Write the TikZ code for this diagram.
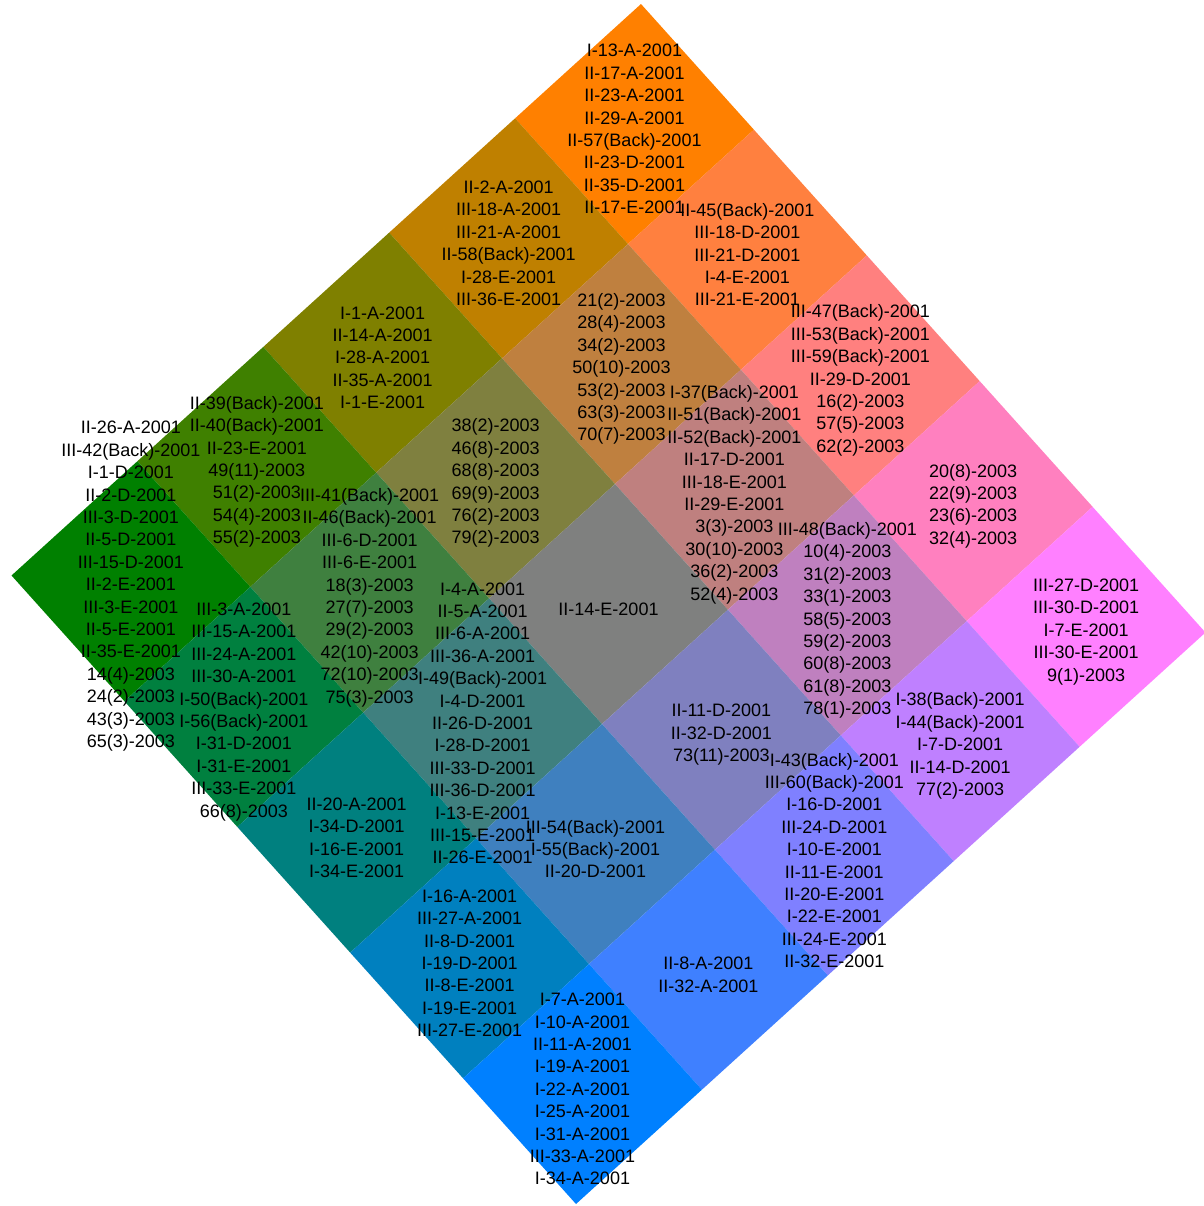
\documentclass[tikz,border=0pt]{standalone}
\usepackage{fontspec}
\setmainfont{Liberation Sans}
\tikzset{lbl/.style={align=center, inner sep=0pt, font=\fontsize{9}{11.2}\selectfont, yshift=-2.5pt}}
\begin{document}
\begin{tikzpicture}[x=0.5pt,y=-0.5pt]
	\useasboundingbox (0,0) rectangle (1204,1206);
	% corners and centres of the map cells
	\foreach \i in {0,...,5}
		\foreach \j in {0,...,5} {
			\coordinate (p\i\j) at ({641+112.9*\i-125.9*\j},{4+125.7*\i+114.3*\j});
			\coordinate (m\i\j) at ({641+112.9*(\i+.5)-125.9*(\j+.5)},{4+125.7*(\i+.5)+114.3*(\j+.5)});
		}
	\foreach \i in {0,...,4}
		\foreach \j in {0,...,4} {
			\pgfmathtruncatemacro\ii{\i+1}
			\pgfmathtruncatemacro\jj{\j+1}
			\pgfmathtruncatemacro\rr{255*(4-\j)/4}
			\pgfmathtruncatemacro\bb{255*\i/4}
			\definecolor{cellc}{RGB}{\rr,128,\bb}
			\fill[cellc] (p\i\j) -- (p\ii\j) -- (p\ii\jj) -- (p\i\jj) -- cycle;
		}
	% row along the upper right side
	\node[lbl] (t00) at (m00) {I-13-A-2001\\II-17-A-2001\\II-23-A-2001\\II-29-A-2001\\II-57(Back)-2001\\II-23-D-2001\\II-35-D-2001\\II-17-E-2001} ;
	\node[lbl] (t10) at (m10) {II-45(Back)-2001\\III-18-D-2001\\III-21-D-2001\\I-4-E-2001\\III-21-E-2001} ;
	\node[lbl] (t20) at (m20) {III-47(Back)-2001\\III-53(Back)-2001\\III-59(Back)-2001\\II-29-D-2001\\16(2)-2003\\57(5)-2003\\62(2)-2003} ;
	\node[lbl] (t30) at (m30) {20(8)-2003\\22(9)-2003\\23(6)-2003\\32(4)-2003} ;
	\node[lbl] (t40) at (m40) {III-27-D-2001\\III-30-D-2001\\I-7-E-2001\\III-30-E-2001\\9(1)-2003} ;
	% second row
	\node[lbl] (t01) at (m01) {II-2-A-2001\\III-18-A-2001\\III-21-A-2001\\II-58(Back)-2001\\I-28-E-2001\\III-36-E-2001} ;
	\node[lbl] (t11) at (m11) {21(2)-2003\\28(4)-2003\\34(2)-2003\\50(10)-2003\\53(2)-2003\\63(3)-2003\\70(7)-2003} ;
	\node[lbl] (t21) at (m21) {I-37(Back)-2001\\II-51(Back)-2001\\II-52(Back)-2001\\II-17-D-2001\\III-18-E-2001\\II-29-E-2001\\3(3)-2003\\30(10)-2003\\36(2)-2003\\52(4)-2003} ;
	\node[lbl] (t31) at (m31) {III-48(Back)-2001\\10(4)-2003\\31(2)-2003\\33(1)-2003\\58(5)-2003\\59(2)-2003\\60(8)-2003\\61(8)-2003\\78(1)-2003} ;
	\node[lbl] (t41) at (m41) {I-38(Back)-2001\\I-44(Back)-2001\\I-7-D-2001\\II-14-D-2001\\77(2)-2003} ;
	% third row
	\node[lbl] (t02) at (m02) {I-1-A-2001\\II-14-A-2001\\I-28-A-2001\\II-35-A-2001\\I-1-E-2001} ;
	\node[lbl] (t12) at (m12) {38(2)-2003\\46(8)-2003\\68(8)-2003\\69(9)-2003\\76(2)-2003\\79(2)-2003} ;
	\node[lbl] (t22) at (m22) {II-14-E-2001} ;
	\node[lbl] (t32) at (m32) {II-11-D-2001\\II-32-D-2001\\73(11)-2003} ;
	\node[lbl] (t42) at (m42) {I-43(Back)-2001\\III-60(Back)-2001\\I-16-D-2001\\III-24-D-2001\\I-10-E-2001\\II-11-E-2001\\II-20-E-2001\\I-22-E-2001\\III-24-E-2001\\II-32-E-2001} ;
	% fourth row
	\node[lbl] (t03) at (m03) {II-39(Back)-2001\\II-40(Back)-2001\\II-23-E-2001\\49(11)-2003\\51(2)-2003\\54(4)-2003\\55(2)-2003} ;
	\node[lbl] (t13) at (m13) {III-41(Back)-2001\\II-46(Back)-2001\\III-6-D-2001\\III-6-E-2001\\18(3)-2003\\27(7)-2003\\29(2)-2003\\42(10)-2003\\72(10)-2003\\75(3)-2003} ;
	\node[lbl] (t23) at (m23) {I-4-A-2001\\II-5-A-2001\\III-6-A-2001\\III-36-A-2001\\I-49(Back)-2001\\I-4-D-2001\\II-26-D-2001\\I-28-D-2001\\III-33-D-2001\\III-36-D-2001\\I-13-E-2001\\III-15-E-2001\\II-26-E-2001} ;
	\node[lbl] (t33) at (m33) {III-54(Back)-2001\\I-55(Back)-2001\\II-20-D-2001} ;
	\node[lbl] (t43) at (m43) {II-8-A-2001\\II-32-A-2001} ;
	% row along the lower left side
	\node[lbl] (t04) at (m04) {II-26-A-2001\\III-42(Back)-2001\\I-1-D-2001\\II-2-D-2001\\III-3-D-2001\\II-5-D-2001\\III-15-D-2001\\II-2-E-2001\\III-3-E-2001\\II-5-E-2001\\II-35-E-2001\\14(4)-2003\\24(2)-2003\\43(3)-2003\\65(3)-2003} ;
	\node[lbl] (t14) at (m14) {III-3-A-2001\\III-15-A-2001\\III-24-A-2001\\III-30-A-2001\\I-50(Back)-2001\\I-56(Back)-2001\\I-31-D-2001\\I-31-E-2001\\III-33-E-2001\\66(8)-2003} ;
	\node[lbl] (t24) at (m24) {II-20-A-2001\\I-34-D-2001\\I-16-E-2001\\I-34-E-2001} ;
	\node[lbl] (t34) at (m34) {I-16-A-2001\\III-27-A-2001\\II-8-D-2001\\I-19-D-2001\\II-8-E-2001\\I-19-E-2001\\III-27-E-2001} ;
	\node[lbl] (t44) at (m44) {I-7-A-2001\\I-10-A-2001\\II-11-A-2001\\I-19-A-2001\\I-22-A-2001\\I-25-A-2001\\I-31-A-2001\\III-33-A-2001\\I-34-A-2001} ;
\end{tikzpicture}
\end{document}
